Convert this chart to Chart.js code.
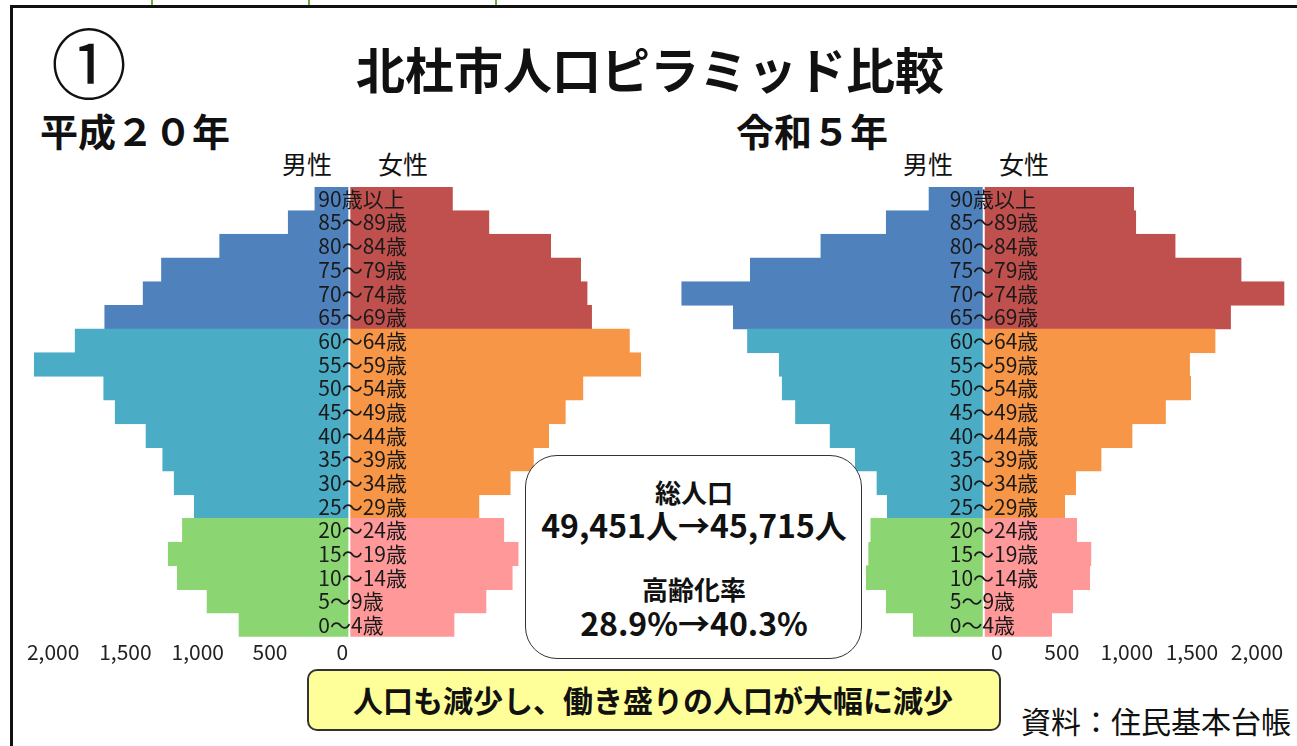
<!DOCTYPE html>
<html>
<head>
<meta charset="utf-8">
<script src="https://cdn.jsdelivr.net/npm/chart.js@4/dist/chart.umd.min.js"></script>
<style>
  body { margin: 0; background: #fff; font-family: "Noto Sans CJK JP", sans-serif; color: #111; }
  #page { position: relative; width: 1297px; height: 746px; overflow: hidden; }
  .abs { position: absolute; white-space: nowrap; }
  .c { transform: translate(-50%, -50%); }
  canvas { position: absolute; }
</style>
</head>
<body>
<div id="page">
  <div class="abs" style="left:151px;top:0;width:2px;height:7px;background:#6aa83a"></div>
  <div class="abs" style="left:308px;top:0;width:2px;height:7px;background:#6aa83a"></div>
  <div class="abs" style="left:495px;top:0;width:2px;height:7px;background:#6aa83a"></div>
  <div class="abs" style="left:10px;top:5px;width:1310px;height:760px;border:3px solid #111"></div>

  <div class="abs c" style="left:89px;top:60px;font-size:76px;line-height:1">①</div>
  <div class="abs c" style="left:650px;top:67px;font-size:49px;line-height:1;font-weight:bold">北杜市人口ピラミッド比較</div>
  <div class="abs c" style="left:135px;top:130px;font-size:38px;line-height:1;font-weight:bold">平成２０年</div>
  <div class="abs c" style="left:812px;top:130px;font-size:38px;line-height:1;font-weight:bold">令和５年</div>
  <div class="abs c" style="left:307px;top:163px;font-size:25px;line-height:1">男性</div>
  <div class="abs c" style="left:403px;top:163px;font-size:25px;line-height:1">女性</div>
  <div class="abs c" style="left:928px;top:163px;font-size:25px;line-height:1">男性</div>
  <div class="abs c" style="left:1024px;top:163px;font-size:25px;line-height:1">女性</div>

  <canvas id="left" width="629" height="481" style="left:24px;top:187px"></canvas>
  <canvas id="right" width="618" height="481" style="left:678px;top:187px"></canvas>

  <div class="abs" style="left:525px;top:455px;width:335px;height:202px;border:1.5px solid #333;border-radius:32px;background:#fff"></div>
  <div class="abs c" style="left:694px;top:492px;font-size:26px;line-height:1;font-weight:bold">総人口</div>
  <div class="abs c" style="left:694px;top:524px;font-size:32px;line-height:1;font-weight:bold">49,451人→45,715人</div>
  <div class="abs c" style="left:694px;top:589px;font-size:26px;line-height:1;font-weight:bold">高齢化率</div>
  <div class="abs c" style="left:694px;top:622px;font-size:32px;line-height:1;font-weight:bold">28.9%→40.3%</div>

  <div class="abs" style="left:307px;top:669px;width:690px;height:58px;border:2px solid #333;border-radius:10px;background:#ffff99"></div>
  <div class="abs c" style="left:653px;top:699px;font-size:30px;line-height:1;font-weight:bold">人口も減少し、働き盛りの人口が大幅に減少</div>
  <div class="abs c" style="left:1156px;top:720px;font-size:30px;line-height:1">資料：住民基本台帳</div>
</div>

<script>
// age groups, top to bottom
const ageLabels = ['90歳以上', '85～89歳', '80～84歳', '75～79歳', '70～74歳', '65～69歳',
  '60～64歳', '55～59歳', '50～54歳', '45～49歳', '40～44歳', '35～39歳', '30～34歳', '25～29歳',
  '20～24歳', '15～19歳', '10～14歳', '5～9歳', '0～4歳']

// 平成20年
const maleH20 = [242, 426, 900, 1302, 1430, 1695, 1900, 2182, 1702, 1623, 1410, 1294, 1215, 1075, 1157, 1256, 1192, 988, 767]
const femaleH20 = [716, 969, 1395, 1602, 1648, 1678, 1940, 2019, 1619, 1497, 1381, 1276, 1116, 900, 1072, 1171, 1130, 949, 728]

// 令和5年
const maleR5 = [425, 753, 1256, 1797, 2325, 1928, 1819, 1575, 1553, 1450, 1185, 991, 825, 744, 872, 888, 906, 753, 544]
const femaleR5 = [1156, 1172, 1475, 1982, 2312, 1900, 1782, 1585, 1594, 1400, 1144, 906, 709, 625, 718, 828, 818, 688, 525]

const tickValues = [0, 500, 1000, 1500, 2000]

// 65歳以上 / 25～64歳 / 0～24歳
const maleColors = ageLabels.map((a, i) => i < 6 ? '#4f81bd' : (i < 14 ? '#4bacc6' : '#8bd572'))
const femaleColors = ageLabels.map((a, i) => i < 6 ? '#c0504d' : (i < 14 ? '#f79646' : '#ff9999'))

const ageLabelPlugin = {
  id: 'ageLabels',
  afterDatasetsDraw(chart, args, opts) {
    let ctx = chart.ctx
    let xs = chart.scales.x
    let ys = chart.scales.y
    ctx.save()
    ctx.font = '21px "Noto Sans CJK JP"'
    ctx.fillStyle = '#1a1a1a'
    ctx.textAlign = 'left'
    ctx.textBaseline = 'middle'
    ageLabels.forEach((lab, i) => {
      ctx.fillText(lab, xs.getPixelForValue(0) + opts.shift, ys.getPixelForValue(i))
    })
    ctx.restore()
  }
}

function makePyramid(id, male, female, xmin, xmax, side, labelOffset, shift) {
  new Chart(document.getElementById(id), {
    type: 'bar',
    data: {
      labels: ageLabels,
      datasets: [
        {
          label: '男性',
          data: male.map(v => -v),
          backgroundColor: maleColors,
          borderColor: '#ffffff',
          borderWidth: {top: 0, bottom: 0, left: 0, right: 1},
          borderSkipped: false,
          barPercentage: 1.04,
          categoryPercentage: 1
        },
        {
          label: '女性',
          data: female,
          backgroundColor: femaleColors,
          borderColor: '#ffffff',
          borderWidth: {top: 0, bottom: 0, left: 1, right: 0},
          borderSkipped: false,
          barPercentage: 1.04,
          categoryPercentage: 1
        }
      ]
    },
    options: {
      indexAxis: 'y',
      responsive: false,
      animation: false,
      devicePixelRatio: 1,
      layout: { padding: 0 },
      plugins: {
        legend: { display: false },
        tooltip: { enabled: false },
        ageLabels: { shift: shift }
      },
      scales: {
        x: {
          type: 'linear',
          stacked: true,
          min: xmin,
          max: xmax,
          grid: { display: false, drawTicks: false },
          border: { display: false },
          afterBuildTicks: function(scale) {
            scale.ticks = tickValues.map(v => ({ value: side === 'male' ? -v : v }))
          },
          ticks: {
            autoSkip: false,
            maxRotation: 0,
            padding: 3,
            labelOffset: labelOffset,
            color: '#222',
            font: { family: '"Noto Sans CJK JP"', size: 21 },
            callback: function(value) {
              return Math.abs(value).toLocaleString('en-US')
            }
          }
        },
        y: {
          type: 'category',
          stacked: true,
          display: false
        }
      }
    },
    plugins: [ageLabelPlugin]
  })
}

makePyramid('left', maleH20, femaleH20, -2250, 2100, 'male', -7, -31)
makePyramid('right', maleR5, femaleR5, -2350, 2400, 'female', 13, -34)
</script>
</body>
</html>
